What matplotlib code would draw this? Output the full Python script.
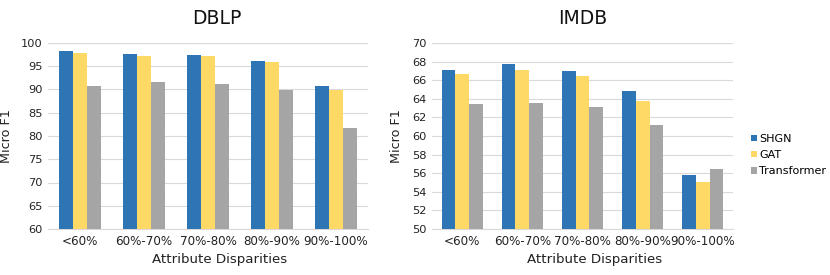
import numpy as np
import matplotlib
matplotlib.use("Agg")
import matplotlib.pyplot as plt
import matplotlib.transforms as mtransforms

categories = ["<60%", "60%-70%", "70%-80%", "80%-90%", "90%-100%"]
series_names = ["SHGN", "GAT", "Transformer"]
colors = ["#2E75B6", "#FFD966", "#A5A5A5"]

dblp_shgn = [98.3, 97.6, 97.4, 96.1, 90.7]
dblp_gat = [97.8, 97.1, 97.1, 96.0, 89.9]
dblp_trans = [90.8, 91.7, 91.1, 90.0, 81.65]

imdb_shgn = [67.1, 67.7, 67.0, 64.8, 55.85]
imdb_gat = [66.7, 67.1, 66.5, 63.8, 55.0]
imdb_trans = [63.4, 63.55, 63.1, 61.2, 56.5]

dblp_ticks = [60, 65, 70, 75, 80, 85, 90, 95, 100]
imdb_ticks = [50, 52, 54, 56, 58, 60, 62, 64, 66, 68, 70]

W, H = 830, 275
fig = plt.figure(figsize=(W / 100, H / 100), dpi=100)
plt.rcParams['font.family'] = ['DejaVu Sans']

def make(ax, data, ticks, title, width, title_x, xlabel_x):
    x = np.arange(len(categories))
    for i, (vals, c, name) in enumerate(zip(data, colors, series_names)):
        ax.bar(x + (i - 1) * width, np.array(vals) - ticks[0], width, bottom=ticks[0],
               color=c, label=name, zorder=3, linewidth=0)
    ax.set_ylim(ticks[0], ticks[-1])
    ax.set_yticks(ticks)
    ax.set_xlim(-0.5, len(categories) - 0.5)
    ax.set_xticks(x)
    ax.set_xticklabels(categories, fontsize=8.6, color="#222222")
    offset = mtransforms.ScaledTranslation(7 / 100, 0, fig.dpi_scale_trans)
    for lab in ax.get_xticklabels():
        lab.set_transform(lab.get_transform() + offset)
    ax.tick_params(axis='y', labelsize=8.2, length=0, pad=4, colors="#222222")
    ax.tick_params(axis='x', length=0, pad=4)
    ax.grid(axis='y', color="#D9D9D9", linewidth=0.8, zorder=0)
    for s in ["top", "right", "left"]:
        ax.spines[s].set_visible(False)
    ax.spines["bottom"].set_color("#D9D9D9")
    ax.spines["bottom"].set_linewidth(0.8)
    ax.set_ylabel("Micro F1", fontsize=9.2, color="#222222", labelpad=6)
    ax.set_xlabel("Attribute Disparities", fontsize=9.6, color="#222222", labelpad=3)
    ax.xaxis.set_label_coords(xlabel_x, -0.13)
    ax.text(title_x, 1.13, title, transform=ax.transAxes, ha="center", va="center",
            fontsize=13.5, color="#111111")

ax1 = fig.add_axes([48 / W, (H - 229) / H, 320 / W, 186 / H])
make(ax1, [dblp_shgn, dblp_gat, dblp_trans], dblp_ticks, "DBLP", 0.22, (217 - 48) / 320, (220 - 48) / 320)
ax1.yaxis.set_label_coords(-0.11, 0.5)

ax2 = fig.add_axes([432 / W, (H - 229) / H, 301 / W, 186 / H])
make(ax2, [imdb_shgn, imdb_gat, imdb_trans], imdb_ticks, "IMDB", 0.228, (583 - 432) / 301, (595 - 432) / 301)
ax2.yaxis.set_label_coords(-0.095, 0.5)

handles, labels = ax2.get_legend_handles_labels()
fig.legend(handles, labels, loc="center left", bbox_to_anchor=(745 / W, 1 - 155 / H),
           frameon=False, fontsize=8.0, handlelength=0.55, handleheight=0.55,
           handletextpad=0.25, labelspacing=0.55, borderpad=0)

fig.savefig("out.png", dpi=100)
